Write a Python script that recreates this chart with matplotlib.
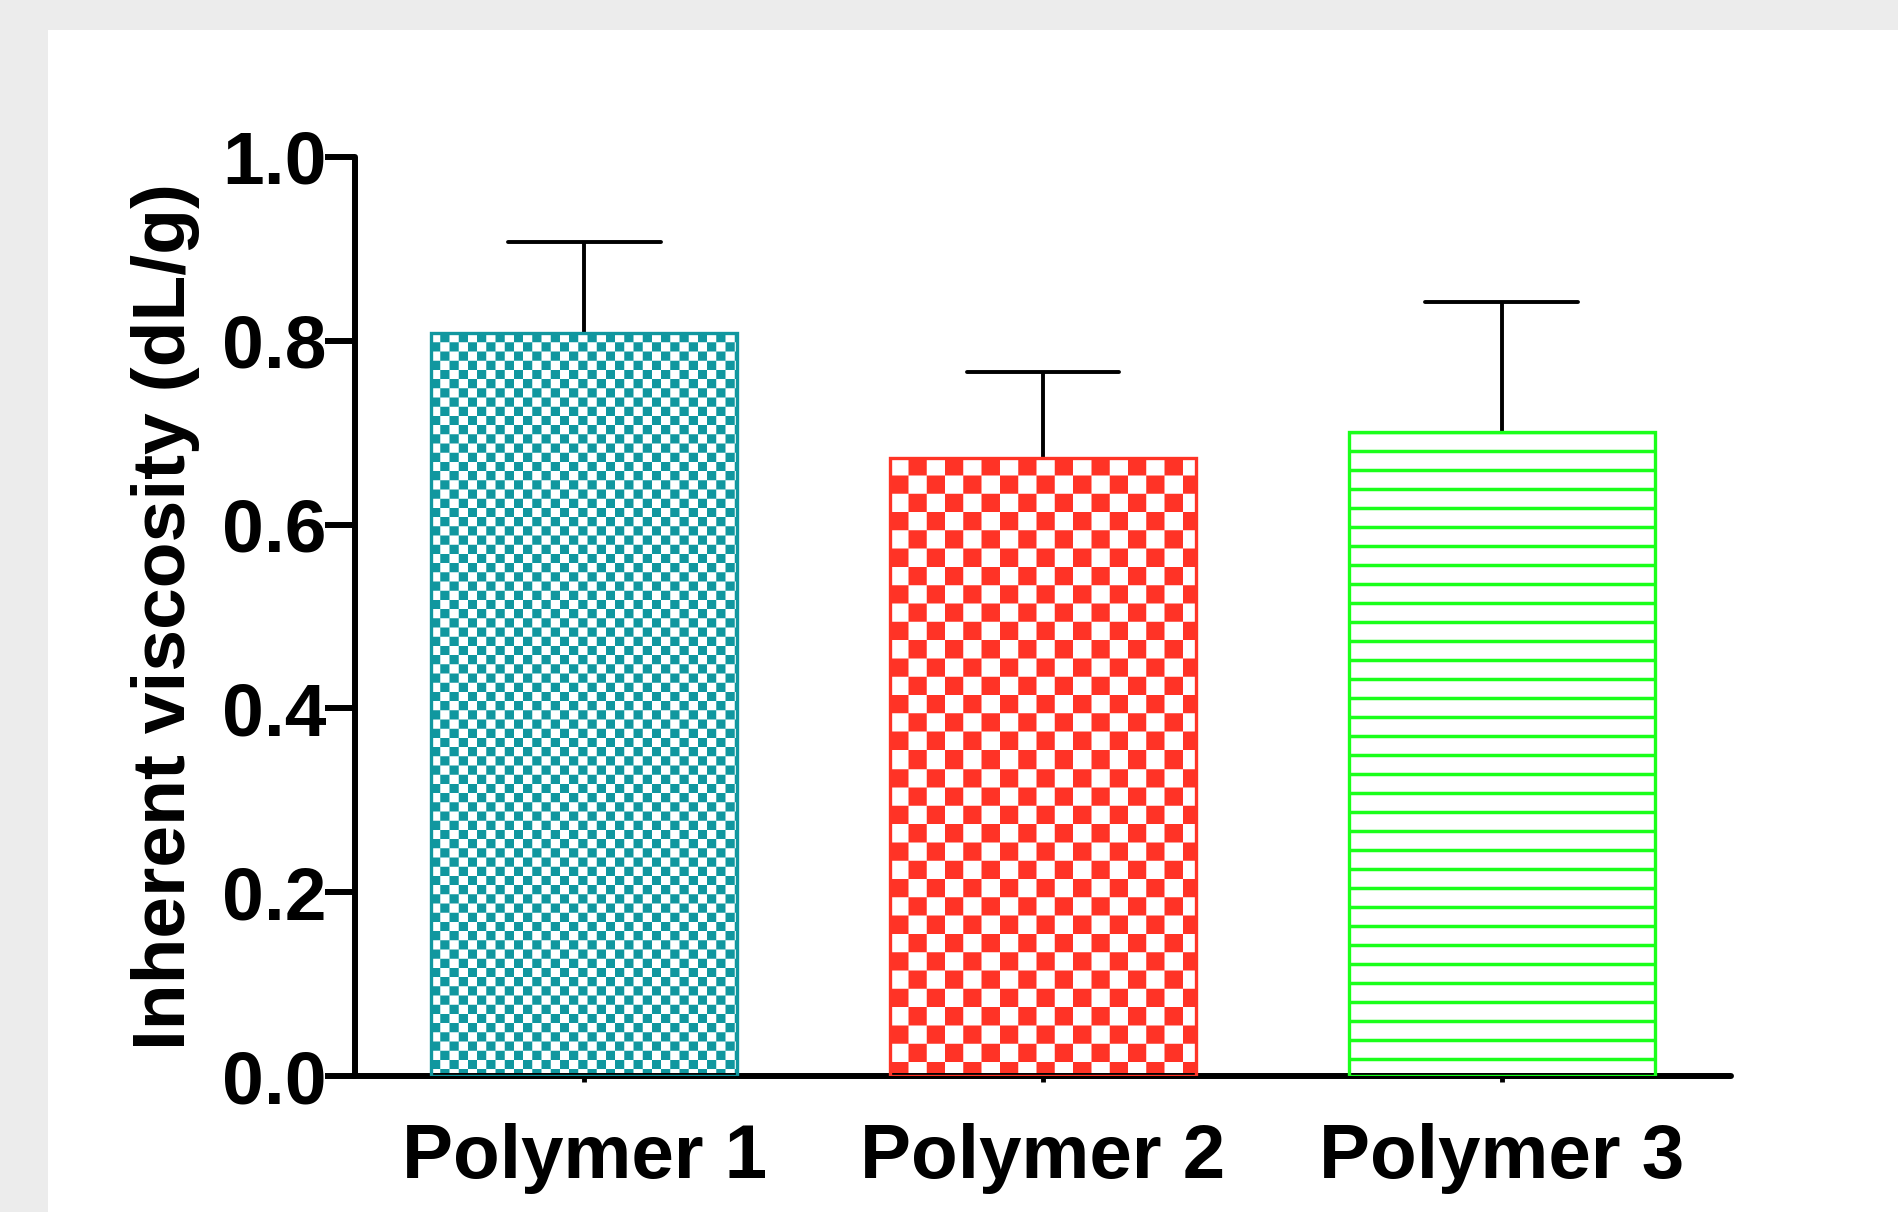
import numpy as np
import matplotlib
matplotlib.use('Agg')
import matplotlib.pyplot as plt
from matplotlib.patches import Rectangle
from matplotlib.colors import to_rgb

# ---- data ----
categories = ['Polymer 1', 'Polymer 2', 'Polymer 3']
means = [0.808, 0.673, 0.701]
errors = [0.099, 0.093, 0.141]
colors = ['#11979f', '#ff3426', '#1aff1a']
patterns = ['check_small', 'check_large', 'hlines']
yticks = [0.0, 0.2, 0.4, 0.6, 0.8, 1.0]
ytick_labels = ['0.0', '0.2', '0.4', '0.6', '0.8', '1.0']
ylabel = 'Inherent viscosity (dL/g)'

W, H, DPI = 1898, 1212, 100
plt.rcParams['font.family'] = ['Liberation Sans', 'DejaVu Sans']
plt.rcParams['font.weight'] = 'bold'

fig = plt.figure(figsize=(W / DPI, H / DPI), dpi=DPI, facecolor='#ececec')
fig.patches.append(Rectangle((48 / W, 0), 1 - 48 / W, 1 - 30 / H,
                             transform=fig.transFigure, facecolor='white',
                             edgecolor='none', zorder=-5))
ax = fig.add_axes([355 / W, 1 - 1076 / H, (1731 - 355) / W, (1076 - 157) / H])
ax.set_facecolor('none')
ax.set_zorder(1)

x = np.arange(len(categories))
bar_w = 0.667
ax.set_xlim(-0.5, 2.5)
ax.set_ylim(0, 1)

bars = ax.bar(x, means, width=bar_w, facecolor='none', edgecolor=colors,
              linewidth=2.4, zorder=4)

# error bars (upper only)
tops = np.array(means) + np.array(errors)
ax.vlines(x, means, tops, color='black', linewidth=2.8, zorder=1.5)
ax.hlines(tops, x - bar_w / 4, x + bar_w / 4, color='black', linewidth=2.8,
          zorder=1.5, capstyle='round')

# pixels per data unit in y
px_per_y = ax.transData.transform((0, 1))[1] - ax.transData.transform((0, 0))[1]


def checker_array(hpx, wpx, color, s, ss=4):
    yy, xx = np.mgrid[0:hpx * ss, 0:wpx * ss] / ss
    m = ((np.floor(yy / s) + np.floor(xx / s)) % 2 == 1)
    m = m.astype(float).reshape(hpx, ss, wpx, ss).mean(axis=(1, 3))
    c = np.array(to_rgb(color))
    return 1 - m[..., None] * (1 - c[None, None, :])


for b, kind, col in zip(bars, patterns, colors):
    x0, y0 = b.get_x(), b.get_y()
    bw, bh = b.get_width(), b.get_height()
    if kind.startswith('check'):
        ext = b.get_window_extent()
        wpx = max(int(round(ext.width)), 1)
        hpx = max(int(round(ext.height)), 1)
        s = 9.2 if kind == 'check_small' else 18.3
        img = checker_array(hpx, wpx, col, s)
        im = ax.imshow(img, extent=(x0, x0 + bw, y0, y0 + bh), origin='upper',
                       interpolation='nearest', aspect='auto', zorder=2)
        im.set_clip_path(b)
    else:
        period = 19.0 / px_per_y
        ys = np.arange(y0 + bh, y0, -period)
        lc = ax.hlines(ys, x0, x0 + bw, color=col, linewidth=2.5, zorder=2)
        lc.set_clip_path(b)

ax.set_xlim(-0.5, 2.5)
ax.set_ylim(0, 1)

for s in ['top', 'right']:
    ax.spines[s].set_visible(False)
for s in ['left', 'bottom']:
    ax.spines[s].set_linewidth(4.3)
    ax.spines[s].set_capstyle('round')

ax.set_yticks(yticks)
ax.set_yticklabels(ytick_labels, fontsize=54, fontweight='bold')
ax.set_xticks(x)
ax.set_xticklabels(categories, fontsize=55, fontweight='bold')
ax.tick_params(axis='y', length=21.6, width=4.3, pad=-1, direction='out')
ax.tick_params(axis='x', length=4, width=3.5, pad=30, direction='out')
ax.set_ylabel(ylabel, fontsize=54, fontweight='bold', labelpad=16)

fig.savefig('out.png', dpi=DPI, facecolor=fig.get_facecolor())
